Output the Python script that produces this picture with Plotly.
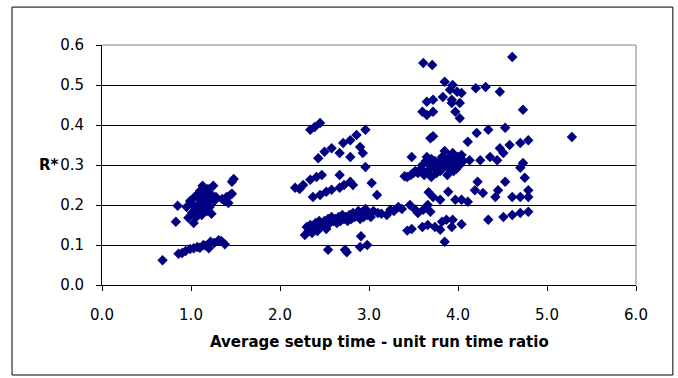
import plotly.graph_objects as go

# Cluster A (low ratio group)
xa = [0.68, 0.86, 0.9, 0.94, 0.99, 1.03, 1.07, 1.1, 1.14, 1.17, 1.2, 1.22, 1.26, 1.31, 1.34, 1.38,
      0.83, 0.85, 0.95, 0.97, 0.99, 1.01, 1.02, 1.03, 1.04, 1.05, 1.06, 1.07, 1.08, 1.09, 1.10, 1.11,
      1.12, 1.13, 1.14, 1.15, 1.16, 1.17, 1.18, 1.19, 1.2, 1.21, 1.22, 1.23, 1.25, 1.26, 1.28, 1.35,
      1.38, 1.40, 1.42, 1.44, 1.46, 1.46, 1.48]
ya = [0.062, 0.078, 0.08, 0.085, 0.09, 0.092, 0.095, 0.093, 0.1, 0.098, 0.092, 0.108, 0.105, 0.112, 0.11, 0.102,
      0.158, 0.198, 0.195, 0.168, 0.21, 0.18, 0.2, 0.155, 0.22, 0.19, 0.17, 0.225, 0.2, 0.185, 0.235, 0.21,
      0.175, 0.248, 0.22, 0.195, 0.23, 0.205, 0.185, 0.24, 0.215, 0.195, 0.228, 0.178, 0.248, 0.21, 0.22, 0.215,
      0.21, 0.22, 0.205, 0.225, 0.228, 0.258, 0.265]

# Cluster B (middle group)
xb = [2.34, 2.39, 2.45, 2.43, 2.5, 2.58, 2.67, 2.71, 2.79, 2.86, 2.96, 2.79, 2.93, 2.96, 2.90,
      2.17, 2.22, 2.26, 2.34, 2.41, 2.47, 2.37, 2.45, 2.52, 2.58, 2.67, 2.72, 2.67, 2.79, 2.82, 3.03, 3.09,
      2.28, 2.30, 2.32, 2.34, 2.36, 2.38, 2.40, 2.42, 2.44, 2.46, 2.48, 2.50, 2.52, 2.54, 2.56, 2.58,
      2.60, 2.62, 2.64, 2.66, 2.68, 2.70, 2.72, 2.74, 2.76, 2.78, 2.80, 2.82, 2.84, 2.86, 2.88, 2.90,
      2.92, 2.94, 2.96, 2.98, 3.00, 3.02, 3.05, 3.10, 3.14,
      2.54, 2.73, 2.75, 2.9, 2.98, 2.91]
yb = [0.388, 0.395, 0.405, 0.317, 0.333, 0.342, 0.33, 0.355, 0.362, 0.375, 0.388, 0.32, 0.33, 0.295, 0.345,
      0.243, 0.24, 0.25, 0.263, 0.27, 0.275, 0.22, 0.225, 0.233, 0.238, 0.243, 0.25, 0.275, 0.258, 0.25, 0.255, 0.225,
      0.125, 0.145, 0.135, 0.15, 0.13, 0.145, 0.155, 0.135, 0.16, 0.145, 0.15, 0.16, 0.14, 0.165, 0.155, 0.17,
      0.16, 0.165, 0.155, 0.17, 0.16, 0.175, 0.165, 0.17, 0.16, 0.175, 0.165, 0.18, 0.17, 0.175, 0.185, 0.165,
      0.18, 0.17, 0.19, 0.175, 0.18, 0.17, 0.185, 0.18, 0.178,
      0.088, 0.088, 0.082, 0.095, 0.1, 0.122]

# Cluster C (upper group)
xc = [3.61, 3.71, 3.85, 3.94, 3.91, 3.99, 4.04, 3.83, 3.93, 3.65, 3.72, 3.6, 3.65, 3.72, 3.93, 4.02, 3.97, 4.02,
      3.69, 3.72, 3.48, 3.43, 3.47, 3.4, 3.5, 3.52,
      3.55, 3.58, 3.6, 3.62, 3.64, 3.66, 3.68, 3.7, 3.72, 3.74, 3.76, 3.78, 3.8, 3.82, 3.84, 3.86, 3.88,
      3.9, 3.92, 3.94, 3.96, 3.98, 4.0, 4.02, 4.04, 4.06, 3.65, 3.85, 3.95, 3.75, 3.7, 3.9, 3.8,
      3.89, 3.8, 3.72, 3.97, 4.04, 4.11, 3.67,
      3.2, 3.24, 3.28, 3.33, 3.37, 3.46, 3.52, 3.55, 3.61, 3.66, 3.69,
      3.43, 3.48, 3.6, 3.66, 3.74, 3.82, 3.87, 3.94, 3.93, 4.04, 3.8, 3.85]
yc = [0.555, 0.55, 0.508, 0.5, 0.488, 0.483, 0.48, 0.47, 0.463, 0.458, 0.463, 0.433, 0.425, 0.433, 0.455, 0.455, 0.433, 0.417,
      0.367, 0.372, 0.32, 0.27, 0.275, 0.272, 0.28, 0.285,
      0.28, 0.29, 0.3, 0.275, 0.31, 0.285, 0.3, 0.27, 0.295, 0.31, 0.28, 0.3, 0.285, 0.32, 0.295, 0.305, 0.275,
      0.32, 0.3, 0.33, 0.31, 0.29, 0.32, 0.3, 0.325, 0.31, 0.32, 0.335, 0.285, 0.29, 0.315, 0.29, 0.31,
      0.233, 0.213, 0.22, 0.213, 0.213, 0.208, 0.232,
      0.175, 0.188, 0.185, 0.195, 0.19, 0.2, 0.188, 0.18, 0.188, 0.2, 0.183,
      0.136, 0.14, 0.145, 0.15, 0.145, 0.158, 0.163, 0.163, 0.145, 0.152, 0.138, 0.108]

# Cluster D (highest ratios)
xd = [4.61, 4.2, 4.31, 4.47, 4.73, 4.11, 4.21, 4.34, 4.53,
      4.47, 4.58, 4.7, 4.79, 4.13, 4.25, 4.36, 4.44, 4.51, 4.73, 4.7,
      4.22, 4.19, 4.28, 4.45, 4.42, 4.53, 4.61, 4.7, 4.75, 4.79, 4.79,
      4.34, 4.51, 4.61, 4.7, 4.79, 5.28]
yd = [0.57, 0.492, 0.495, 0.483, 0.438, 0.358, 0.38, 0.388, 0.393,
      0.342, 0.35, 0.355, 0.362, 0.312, 0.312, 0.32, 0.312, 0.33, 0.305, 0.293,
      0.258, 0.237, 0.23, 0.237, 0.22, 0.258, 0.22, 0.22, 0.268, 0.237, 0.22,
      0.163, 0.17, 0.175, 0.18, 0.183, 0.37]

x_all = xa + xb + xc + xd
y_all = ya + yb + yc + yd

x_ticks = [0, 1, 2, 3, 4, 5, 6]
y_ticks = [0.0, 0.1, 0.2, 0.3, 0.4, 0.5, 0.6]
x_title = "Average setup time - unit run time ratio"
y_title = "R*"

FONT = "DejaVu Sans, Liberation Sans, Arial, sans-serif"

fig = go.Figure()
fig.add_trace(go.Scatter(
    x=x_all, y=y_all, mode="markers",
    marker=dict(symbol="diamond", size=8, color="#000080", line=dict(width=0)),
    hoverinfo="x+y", showlegend=False,
))

fig.update_layout(
    width=678, height=378,
    margin=dict(l=102, r=42, t=45, b=93),
    paper_bgcolor="white", plot_bgcolor="white",
    font=dict(family=FONT, size=15, color="black"),
    xaxis=dict(
        range=[0, 6], tickvals=x_ticks, ticktext=[f"{v:.1f}" for v in x_ticks],
        showgrid=False, zeroline=False, showline=True, linecolor="black", linewidth=1,
        ticks="outside", ticklen=5, tickcolor="black", ticklabelstandoff=11,
    ),
    yaxis=dict(
        range=[0, 0.6], tickvals=y_ticks, ticktext=[f"{v:.1f}" for v in y_ticks],
        showgrid=True, gridcolor="black", gridwidth=1,
        zeroline=False, showline=True, linecolor="black", linewidth=1,
        ticks="outside", ticklen=5, tickcolor="black", ticklabelstandoff=9,
    ),
    shapes=[
        dict(type="line", xref="paper", yref="paper", x0=0, x1=1, y0=1, y1=1,
             line=dict(color="#808080", width=1), layer="above"),
        dict(type="line", xref="paper", yref="paper", x0=1, x1=1, y0=0, y1=1,
             line=dict(color="#808080", width=1), layer="above"),
        dict(type="rect", xref="paper", yref="paper", x0=-0.1685, x1=1.069, y0=-0.375, y1=1.158,
             line=dict(color="black", width=1), fillcolor="rgba(0,0,0,0)", layer="below"),
    ],
    annotations=[
        dict(text=f"<b>{y_title}</b>", xref="paper", yref="y", x=-0.077, y=0.3,
             xanchor="right", yanchor="middle", showarrow=False,
             font=dict(size=15, family=FONT, color="black")),
        dict(text=f"<b>{x_title}</b>", xref="paper", yref="paper", x=0.52, y=-0.238,
             xanchor="center", yanchor="middle", showarrow=False,
             font=dict(size=15, family=FONT, color="black")),
    ],
)

fig.write_html("out.html")
